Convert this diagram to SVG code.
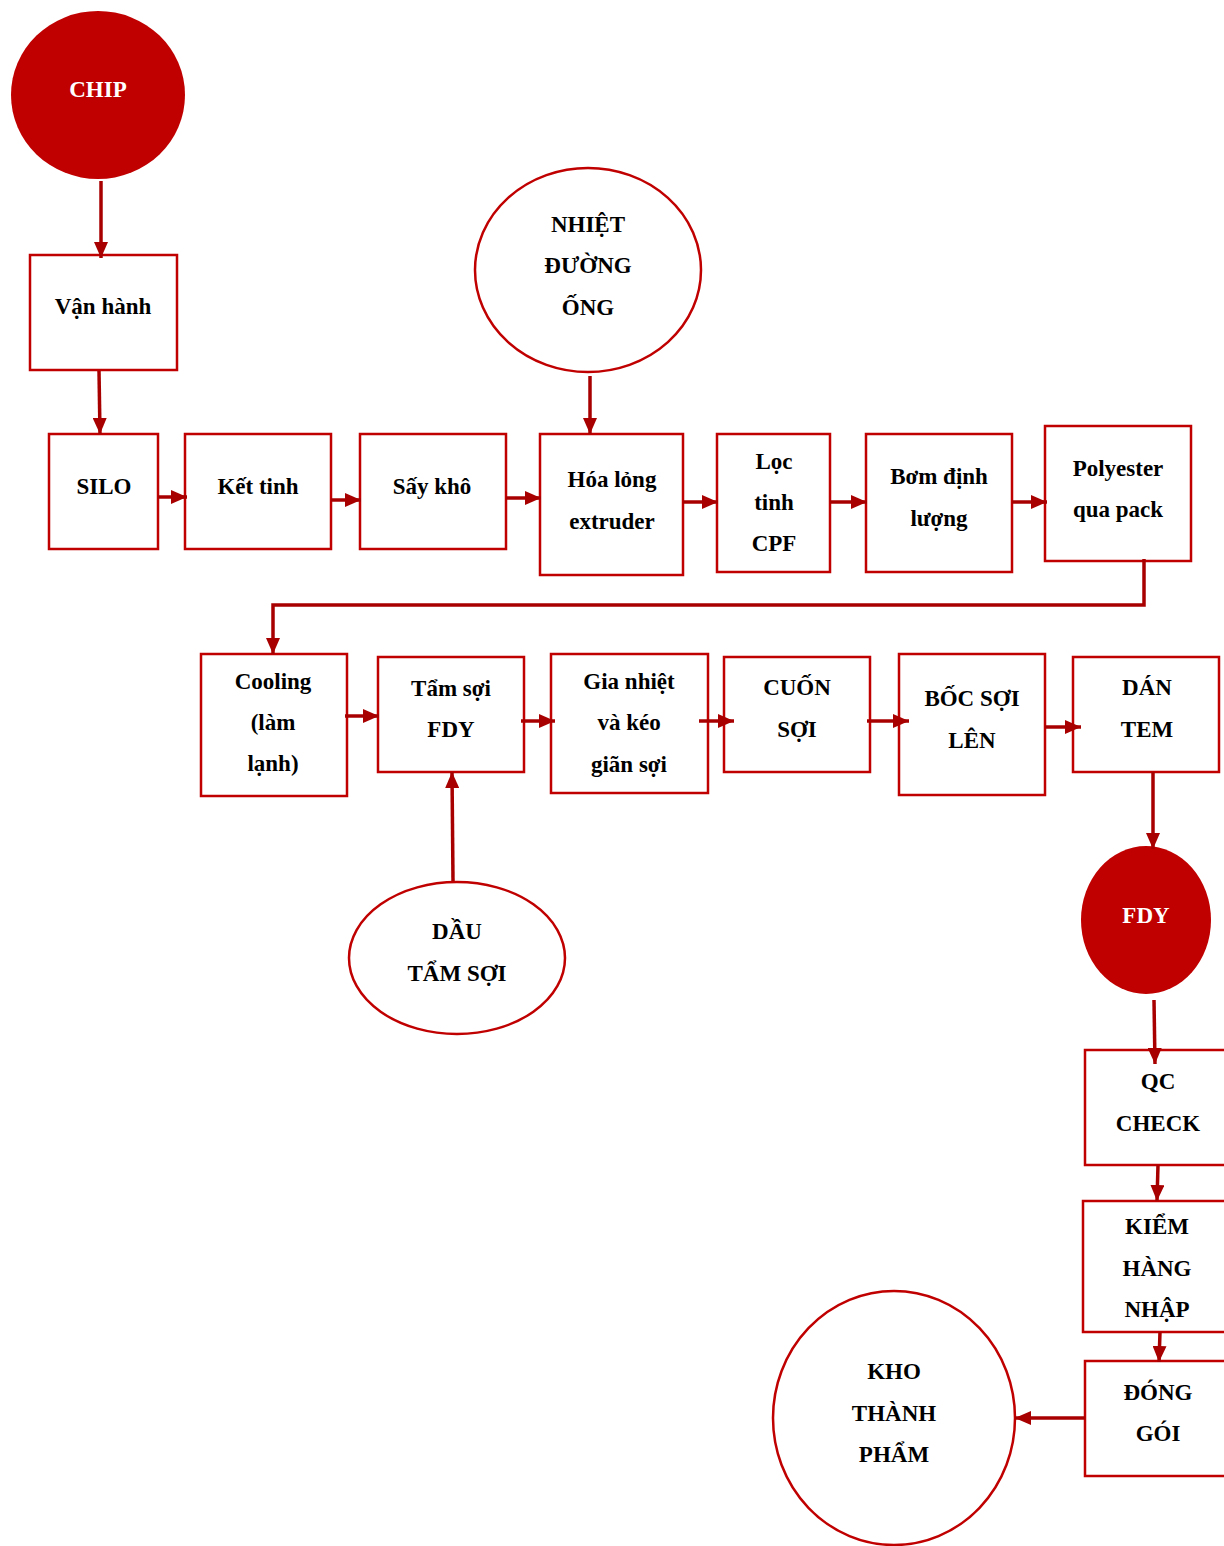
<svg xmlns="http://www.w3.org/2000/svg" width="1224" height="1546" viewBox="0 0 1224 1546">
<defs>
<marker id="ah" viewBox="0 0 16 14" refX="16" refY="7" markerWidth="16" markerHeight="14" orient="auto" markerUnits="userSpaceOnUse"><path d="M0,0 L16,7 L0,14 z" fill="#A80000"/></marker>
<style>
.box{fill:#fff;stroke:#C00000;stroke-width:2.5}
.el{fill:#fff;stroke:#C00000;stroke-width:2.5}
.fill{fill:#C00000;stroke:none}
.c{fill:none;stroke:#A80000;stroke-width:3.5;marker-end:url(#ah)}
text{font-family:"Liberation Serif","Times New Roman",serif;font-weight:bold;font-size:23px;text-anchor:middle;fill:#000}
.w{fill:#fff}
</style>
</defs>
<rect width="1224" height="1546" fill="#fff"/>
<g id="chip"><ellipse class="fill" cx="98" cy="95" rx="87" ry="84"/><text class="w" x="98" y="97">CHIP</text></g>
<g id="van-hanh"><rect class="box" x="30" y="255" width="147" height="115"/><text x="103" y="314">Vận hành</text></g>
<g id="silo"><rect class="box" x="49" y="434" width="109" height="115"/><text x="104" y="494">SILO</text></g>
<g id="ket-tinh"><rect class="box" x="185" y="434" width="146" height="115"/><text x="258" y="494">Kết tinh</text></g>
<g id="say-kho"><rect class="box" x="360" y="434" width="146" height="115"/><text x="432" y="494">Sấy khô</text></g>
<g id="nhiet-duong-ong"><ellipse class="el" cx="588" cy="270" rx="113" ry="102"/><text x="588" y="232">NHIỆT</text><text x="588" y="273">ĐƯỜNG</text><text x="588" y="315">ỐNG</text></g>
<g id="hoa-long"><rect class="box" x="540" y="434" width="143" height="141"/><text x="612" y="487">Hóa lỏng</text><text x="612" y="529">extruder</text></g>
<g id="loc-tinh"><rect class="box" x="717" y="434" width="113" height="138"/><text x="774" y="469">Lọc</text><text x="774" y="510">tinh</text><text x="774" y="551">CPF</text></g>
<g id="bom"><rect class="box" x="866" y="434" width="146" height="138"/><text x="939" y="484">Bơm định</text><text x="939" y="526">lượng</text></g>
<g id="polyester"><rect class="box" x="1045" y="426" width="146" height="135"/><text x="1118" y="476">Polyester</text><text x="1118" y="517">qua pack</text></g>
<g id="cooling"><rect class="box" x="201" y="654" width="146" height="142"/><text x="273" y="689">Cooling</text><text x="273" y="730">(làm</text><text x="273" y="771">lạnh)</text></g>
<g id="tam-soi"><rect class="box" x="378" y="657" width="146" height="115"/><text x="451" y="696">Tẩm sợi</text><text x="451" y="737">FDY</text></g>
<g id="gia-nhiet"><rect class="box" x="551" y="654" width="157" height="139"/><text x="629" y="689">Gia nhiệt</text><text x="629" y="730">và kéo</text><text x="629" y="772">giãn sợi</text></g>
<g id="cuon-soi"><rect class="box" x="724" y="657" width="146" height="115"/><text x="797" y="695">CUỐN</text><text x="797" y="737">SỢI</text></g>
<g id="boc-soi"><rect class="box" x="899" y="654" width="146" height="141"/><text x="972" y="706">BỐC SỢI</text><text x="972" y="748">LÊN</text></g>
<g id="dan-tem"><rect class="box" x="1073" y="657" width="146" height="115"/><text x="1147" y="695">DÁN</text><text x="1147" y="737">TEM</text></g>
<g id="dau-tam-soi"><ellipse class="el" cx="457" cy="958" rx="108" ry="76"/><text x="457" y="939">DẦU</text><text x="457" y="981">TẨM SỢI</text></g>
<g id="fdy"><ellipse class="fill" cx="1146" cy="920" rx="65" ry="74"/><text class="w" x="1146" y="923">FDY</text></g>
<g id="qc-check"><rect class="box" x="1085" y="1050" width="150" height="115"/><text x="1158" y="1089">QC</text><text x="1158" y="1131">CHECK</text></g>
<g id="kiem-hang"><rect class="box" x="1083" y="1201" width="152" height="131"/><text x="1157" y="1234">KIỂM</text><text x="1157" y="1276">HÀNG</text><text x="1157" y="1317">NHẬP</text></g>
<g id="dong-goi"><rect class="box" x="1085" y="1361" width="150" height="115"/><text x="1158" y="1400">ĐÓNG</text><text x="1158" y="1441">GÓI</text></g>
<g id="kho"><ellipse class="el" cx="894" cy="1418" rx="121" ry="127"/><text x="894" y="1379">KHO</text><text x="894" y="1421">THÀNH</text><text x="894" y="1462">PHẨM</text></g>
<g id="connectors">
<line class="c" x1="101" y1="181" x2="101" y2="258"/>
<line class="c" x1="99" y1="371" x2="100" y2="434"/>
<line class="c" x1="158" y1="497" x2="187" y2="497"/>
<line class="c" x1="331" y1="500" x2="361" y2="500"/>
<line class="c" x1="506" y1="498" x2="541" y2="498"/>
<line class="c" x1="590" y1="376" x2="590" y2="434"/>
<line class="c" x1="683" y1="502" x2="718" y2="502"/>
<line class="c" x1="830" y1="502" x2="867" y2="502"/>
<line class="c" x1="1012" y1="502" x2="1047" y2="502"/>
<polyline class="c" points="1144,559 1144,605 273,605 273,654"/>
<line class="c" x1="345" y1="716" x2="379" y2="716"/>
<line class="c" x1="521" y1="721" x2="555" y2="721"/>
<line class="c" x1="699" y1="721" x2="734" y2="721"/>
<line class="c" x1="867" y1="721" x2="909" y2="721"/>
<line class="c" x1="1045" y1="727" x2="1081" y2="727"/>
<line class="c" x1="453" y1="881" x2="452" y2="772"/>
<line class="c" x1="1153" y1="772" x2="1153" y2="849"/>
<line class="c" x1="1154" y1="1000" x2="1155" y2="1064"/>
<line class="c" x1="1158" y1="1165" x2="1157" y2="1201"/>
<line class="c" x1="1160" y1="1332" x2="1159" y2="1362"/>
<line class="c" x1="1085" y1="1418" x2="1015" y2="1418"/>
</g>
</svg>
